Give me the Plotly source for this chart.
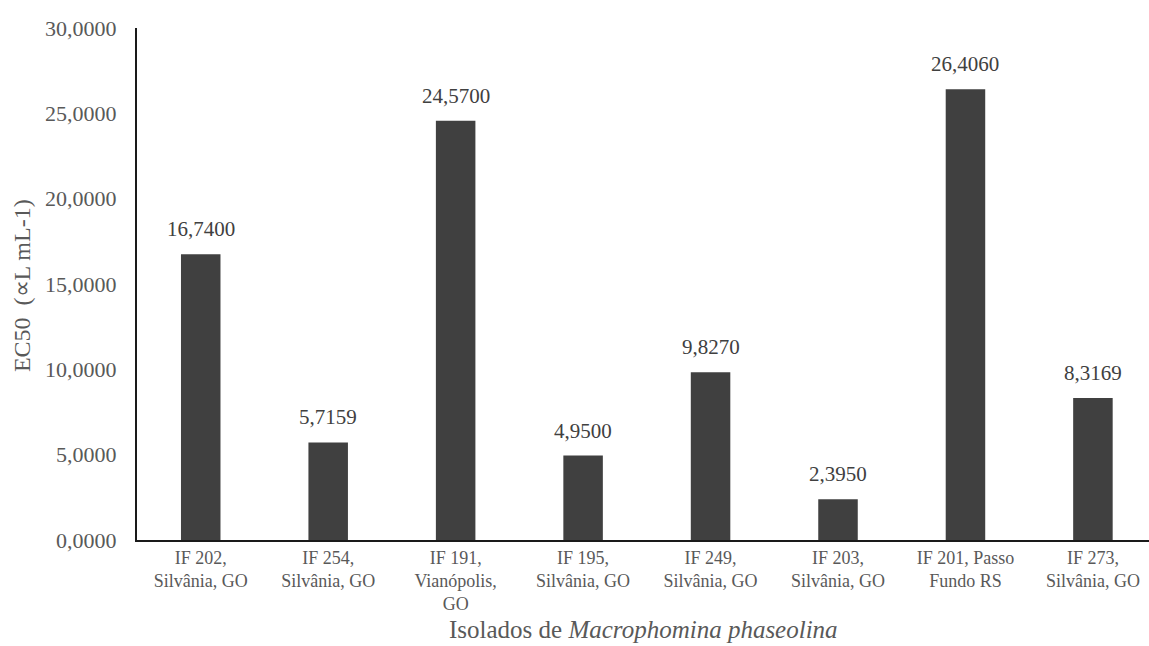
import plotly.graph_objects as go

categories = [
    "IF 202,<br>Silvânia, GO",
    "IF 254,<br>Silvânia, GO",
    "IF 191,<br>Vianópolis,<br>GO",
    "IF 195,<br>Silvânia, GO",
    "IF 249,<br>Silvânia, GO",
    "IF 203,<br>Silvânia, GO",
    "IF 201, Passo<br>Fundo RS",
    "IF 273,<br>Silvânia, GO",
]
ec50 = [16.7400, 5.7159, 24.5700, 4.9500, 9.8270, 2.3950, 26.4060, 8.3169]
label_text = ["16,7400", "5,7159", "24,5700", "4,9500", "9,8270", "2,3950", "26,4060", "8,3169"]
y_ticks = [0, 5, 10, 15, 20, 25, 30]
y_tick_text = ["0,0000", "5,0000", "10,0000", "15,0000", "20,0000", "25,0000", "30,0000"]
x_title = "Isolados de <i>Macrophomina phaseolina</i>"
y_title = "EC50  (∝L mL-1)"

FONT = "Liberation Serif"
GRAY = "#595959"

fig = go.Figure()
fig.add_trace(go.Bar(
    x=list(range(len(categories))),
    y=ec50,
    marker=dict(color="#404040", line=dict(width=0)),
    width=0.31,
    hoverinfo="skip",
))

for i, (v, t) in enumerate(zip(ec50, label_text)):
    fig.add_annotation(
        x=i, y=v, text=t, showarrow=False,
        yanchor="bottom", yshift=11,
        font=dict(family=FONT, size=21, color="#404040"),
    )

fig.add_annotation(
    xref="paper", yref="paper", x=0.5, y=-0.174,
    xanchor="center", yanchor="middle", showarrow=False,
    text=x_title, font=dict(family=FONT, size=25, color=GRAY),
)
fig.add_annotation(
    xref="paper", yref="paper", x=-0.1136, y=0.496,
    xanchor="center", yanchor="middle", showarrow=False, textangle=-90,
    text=y_title, font=dict(family=FONT, size=24, color=GRAY),
)

fig.update_layout(
    width=1149, height=646,
    margin=dict(l=137, r=0, t=28, b=106),
    paper_bgcolor="white", plot_bgcolor="white",
    showlegend=False,
    font=dict(family=FONT, color=GRAY),
)
fig.update_xaxes(
    range=[-0.5, 7.44],
    tickmode="array",
    tickvals=list(range(len(categories))),
    ticktext=categories,
    tickfont=dict(family=FONT, size=18, color=GRAY),
    showline=True, linecolor="#1a1a1a", linewidth=2,
    showgrid=False, zeroline=False,
    ticks="", automargin=False,
)
fig.update_yaxes(
    range=[0, 30],
    tickmode="array",
    tickvals=y_ticks,
    ticktext=y_tick_text,
    tickfont=dict(family=FONT, size=22, color=GRAY),
    showline=True, linecolor="#1a1a1a", linewidth=2,
    showgrid=False, zeroline=False,
    ticks="", automargin=False,
    ticklabelstandoff=14,
)

fig.write_html(
    "out.html",
    config={"displayModeBar": False},
    post_script="document.body.style.margin='0';document.body.style.padding='0';",
)
